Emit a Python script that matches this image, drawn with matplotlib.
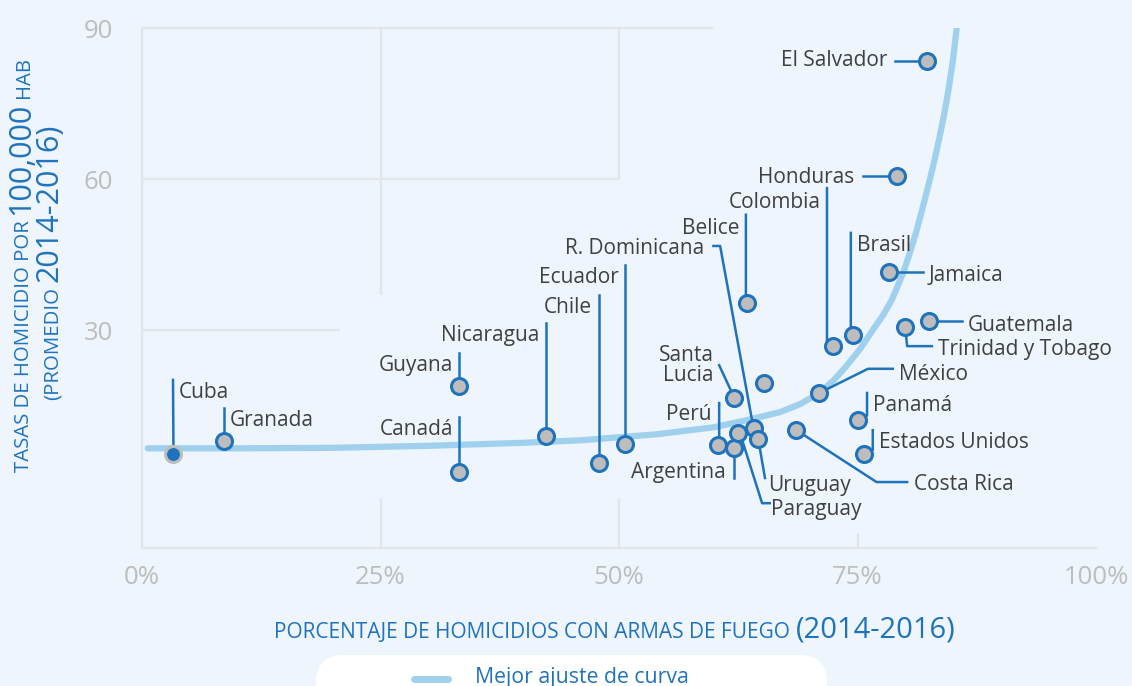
import matplotlib
matplotlib.use('Agg')
import matplotlib.pyplot as plt
from matplotlib.patches import FancyBboxPatch
from matplotlib.lines import Line2D
from matplotlib.transforms import IdentityTransform

plt.rcParams['font.family'] = ['Open Sans', 'DejaVu Sans']

# % de homicidios con armas de fuego vs tasa por 100.000 hab (2014-2016)
countries = ['Cuba', 'Granada', 'Guyana', 'Canadá', 'Nicaragua', 'Chile', 'Ecuador',
             'Belice', 'R. Dominicana', 'Santa\nLucia', 'Perú', 'Argentina', 'Paraguay',
             'Uruguay', '', 'Costa Rica', 'México', 'Colombia', 'Brasil', 'Panamá',
             'Estados Unidos', 'Jamaica', 'Honduras', 'Trinidad y Tobago', 'Guatemala',
             'El Salvador']
pct_firearm = [3.3, 8.6, 33.2, 33.2, 42.3, 47.9, 50.6, 63.4, 64.1, 62.1, 60.4, 62.1,
               62.5, 64.6, 65.2, 68.6, 71.0, 72.4, 74.5, 75.1, 75.7, 78.3, 79.1, 80.0,
               82.5, 82.3]
homicide_rate = [5.4, 7.9, 18.9, 1.8, 8.9, 3.6, 7.4, 35.4, 10.5, 16.5, 7.2, 6.6, 9.5,
                 8.3, 19.5, 10.1, 17.5, 26.8, 29.0, 12.1, 5.4, 41.5, 60.6, 30.6, 31.8,
                 83.4]

# curva de mejor ajuste
fit_x = [0.6, 10, 20, 30, 40, 46, 54, 60, 63.4, 66.9, 69, 71, 72.5, 73.9, 75.3, 76.6,
         77.7, 78.6, 79.8, 80.5, 81.2, 81.9, 82.6, 83.1, 83.6, 84.1, 84.5, 85.0, 85.4]
fit_y = [6.5, 6.5, 6.6, 7.0, 7.6, 8.1, 9.3, 10.7, 12.1, 13.7, 15.3, 17.5, 20.0, 23.0,
         26.3, 30.0, 33.0, 36.0, 41.4, 45.4, 49.8, 54.8, 60.0, 64.0, 68.3, 73.0, 77.3,
         83.5, 90.0]

x_ticks = [0, 25, 50, 75, 100]
x_ticklabels = ['0%', '25%', '50%', '75%', '100%']
y_ticks = [30, 60, 90]

# label text position, alignment, leader line vertices (data coords)
label_layout = {
    'Cuba': (3.8, 18.1, 'left', [(3.25, 20.1)]),
    'Granada': (9.2, 12.5, 'left', [(8.6, 14.5)]),
    'Guyana': (32.6, 23.4, 'right', [(33.2, 25.4)]),
    'Canadá': (32.6, 10.7, 'right', [(33.2, 12.7)]),
    'Nicaragua': (41.7, 29.4, 'right', [(42.3, 31.4)]),
    'Chile': (47.2, 35.0, 'right', [(47.9, 37.0)]),
    'Ecuador': (50.0, 40.9, 'right', [(50.6, 42.9)]),
    'Belice': (62.6, 50.7, 'right', [(63.3, 52.9), (63.3, 36.0)]),
    'R. Dominicana': (58.9, 46.7, 'right', [(59.9, 46.7), (60.6, 46.7)]),
    'Santa\nLucia': (59.9, 23.4, 'right', [(60.5, 23.0)]),
    'Perú': (59.7, 13.7, 'right', [(60.5, 15.5), (60.5, 8.0)]),
    'Argentina': (61.2, 2.2, 'right', [(62.1, 0.6)]),
    'Paraguay': (65.9, -5.2, 'left', [(65.8, -4.4), (65.0, -4.4), (63.0, 7.6)]),
    'Uruguay': (65.6, -0.4, 'left', [(65.3, 0.6)]),
    'Costa Rica': (80.9, -0.2, 'left', [(80.2, -0.2), (77.0, -0.2)]),
    'México': (79.4, 21.7, 'left', [(78.7, 22.3), (76.1, 22.3)]),
    'Colombia': (71.1, 55.8, 'right', [(71.8, 58.2), (71.8, 27.6)]),
    'Brasil': (74.9, 47.3, 'left', [(74.3, 49.3), (74.3, 29.8)]),
    'Panamá': (76.6, 15.5, 'left', [(76.0, 17.5), (76.0, 13.0)]),
    'Estados Unidos': (77.3, 8.1, 'left', [(76.6, 10.1), (76.6, 6.2)]),
    'Jamaica': (82.5, 41.3, 'left', [(81.9, 41.5)]),
    'Honduras': (74.7, 60.8, 'right', [(75.6, 60.6)]),
    'Trinidad y Tobago': (83.4, 26.6, 'left', [(82.8, 26.8), (80.2, 26.8)]),
    'Guatemala': (86.6, 31.4, 'left', [(86.0, 31.8)]),
    'El Salvador': (78.1, 84.0, 'right', [(78.9, 83.4)]),
}

# partial grid lines as they show in the original
grid_segments = [
    ([0, 59.9], [90, 90]), ([0, 50], [60, 60]), ([0, 20.75], [30, 30]),
    ([25, 25], [90, 36.9]), ([25, 25], [-3.4, -13.3]),
    ([50, 50], [90, 60]), ([50, 50], [-3.6, -13.3]),
    ([75, 75], [-10.4, -13.3]),
]

BG = '#eef5fc'
BLUE = '#1f73bd'
LIGHT = '#9fd1ee'
GRID = '#e2e6ea'
TXT = '#404040'
TICK = '#bdbdbd'

W, H = 1132, 686
fig = plt.figure(figsize=(W / 100, H / 100), dpi=100, facecolor=BG)
ax = fig.add_axes([142 / W, 138 / H, 954 / W, 520 / H])
ax.set_facecolor(BG)
ax.set_xlim(0, 100)
ax.set_ylim(-13.3, 90)

for s in ['top', 'right']:
    ax.spines[s].set_visible(False)
for s in ['left', 'bottom']:
    ax.spines[s].set_color(GRID)
    ax.spines[s].set_linewidth(1.7)
for gx, gy in grid_segments:
    ax.plot(gx, gy, color=GRID, lw=1.7, zorder=0, clip_on=False, solid_capstyle='butt')

ax.set_xticks(x_ticks)
ax.set_xticklabels(x_ticklabels)
ax.set_yticks(y_ticks)
ax.tick_params(length=0, labelsize=18.5, labelcolor=TICK)
ax.tick_params(axis='x', pad=12)
ax.tick_params(axis='y', pad=21)

# fit curve
ax.plot(fit_x, fit_y, color=LIGHT, lw=4.5, solid_capstyle='round',
        solid_joinstyle='round', zorder=1)

# leader lines + labels
for name, px, py in zip(countries, pct_firearm, homicide_rate):
    if name not in label_layout:
        continue
    tx, ty, ha, path = label_layout[name]
    xs = [p[0] for p in path] + [px]
    ys = [p[1] for p in path] + [py]
    ax.plot(xs, ys, color=BLUE, lw=1.8, zorder=2, clip_on=False)
    ax.text(tx, ty, name, ha=ha, va='center_baseline', fontsize=15, color=TXT,
            linespacing=0.95, zorder=4)

# points
for name, px, py in zip(countries, pct_firearm, homicide_rate):
    if name == 'Cuba':
        fc, ec = BLUE, '#bdbdbd'
    else:
        fc, ec = '#bdbdbd', BLUE
    ax.plot(px, py, 'o', ms=11.5, mfc=fc, mec=ec, mew=2.2, zorder=3, clip_on=False)

# axis titles with mixed sizes
renderer = fig.canvas.get_renderer()


def chained(pieces, x0, y0, vertical, gap=5):
    pos = y0 if vertical else x0
    for txt, size in pieces:
        if vertical:
            t = fig.text(x0, pos, txt, rotation=90, rotation_mode='anchor', ha='left',
                         va='baseline', fontsize=size, color=BLUE, transform=IdentityTransform())
            pos = t.get_window_extent(renderer).y1 + gap
        else:
            t = fig.text(pos, y0, txt, ha='left', va='baseline', fontsize=size,
                         color=BLUE, transform=IdentityTransform())
            pos = t.get_window_extent(renderer).x1 + gap


chained([('TASAS DE HOMICIDIO POR', 14.7), ('100,000', 22), ('HAB', 14.7)], 29, 214, True)
chained([('(PROMEDIO', 14.7), ('2014-2016)', 22)], 58, 286, True)
chained([('PORCENTAJE DE HOMICIDIOS CON ARMAS DE FUEGO', 15), ('(2014-2016)', 21)],
        274, 48, False, gap=6)

# legend box (cut by the bottom edge)
fig.add_artist(FancyBboxPatch((316, -40), 511, 71, boxstyle='round,pad=0,rounding_size=28',
                              transform=IdentityTransform(), facecolor='white',
                              edgecolor='none'))
fig.add_artist(Line2D([414, 448], [7, 7], color=LIGHT, lw=5, solid_capstyle='round',
                      transform=IdentityTransform()))
fig.text(475, 9, 'Mejor ajuste de curva', ha='left', va='center', fontsize=15.3,
         color=BLUE, transform=IdentityTransform())

fig.savefig('out.png', dpi=100, facecolor=BG)
